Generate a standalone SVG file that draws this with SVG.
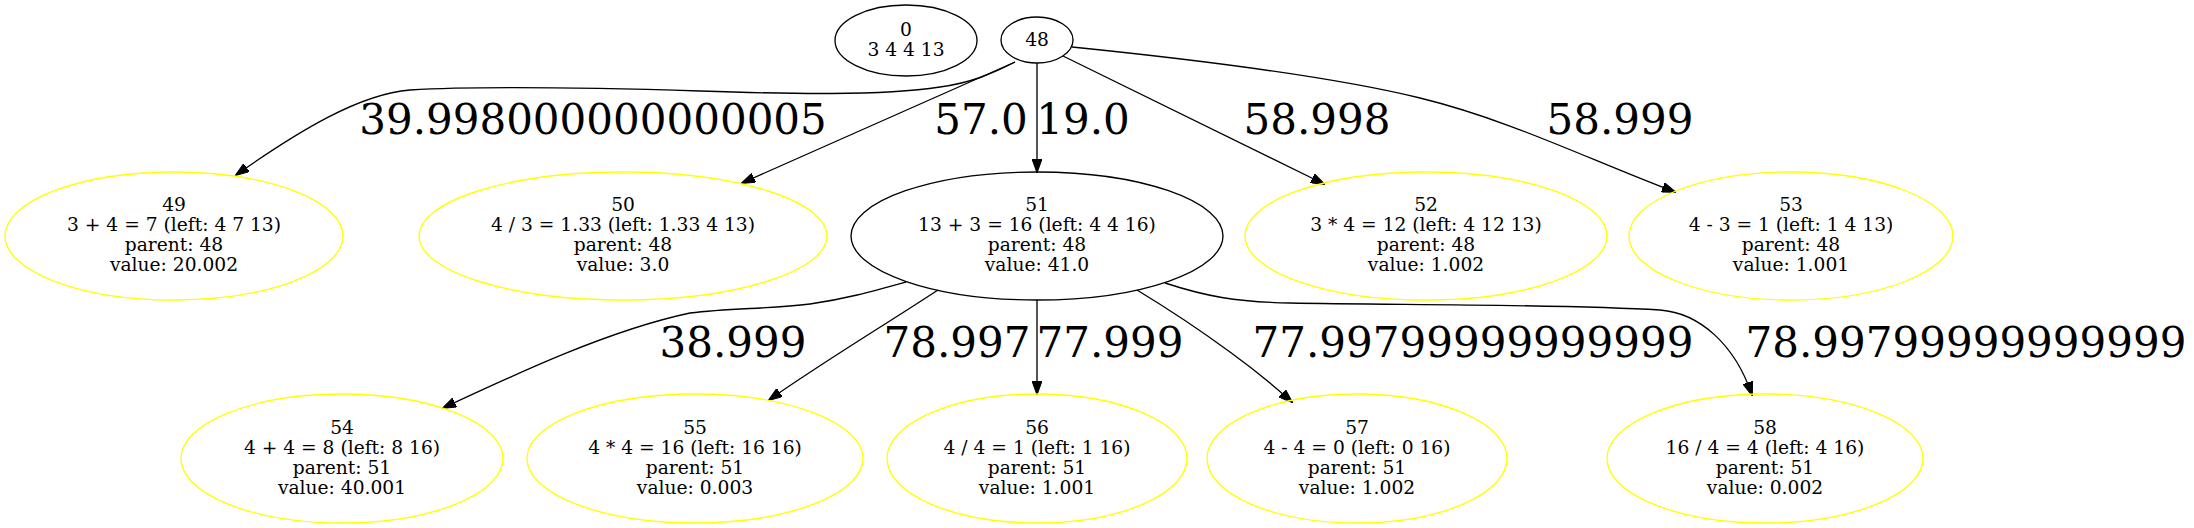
<svg xmlns="http://www.w3.org/2000/svg" width="2194" height="528" viewBox="0 0 2194 528">
<style>
.n ellipse{fill:none;stroke-width:1.33}
.y ellipse{stroke:#ffff00}
.k ellipse{stroke:#000000}
.n text{font-family:"DejaVu Serif","Liberation Serif",serif;font-size:18.67px;fill:#000;text-anchor:middle}
.e path{fill:none;stroke:#000;stroke-width:1.33}
.lb{font-family:"DejaVu Serif","Liberation Serif",serif;font-size:42px;fill:#000;text-anchor:middle}
</style>
<defs>
<marker id="ah" viewBox="0 0 14 10" refX="13" refY="5" markerWidth="14" markerHeight="10" orient="auto" markerUnits="userSpaceOnUse">
<path d="M0,0 L14,5 L0,10 z" fill="#000" stroke="#000" stroke-width="1"/>
</marker>
</defs>
<rect width="2194" height="528" fill="#ffffff"/>
<g id="edges" class="e">
<path marker-end="url(#ah)" d="M1015,62 C992,74 970,83 940,87 C880,96 790,94 700,91 C600,88 480,86 410,90 C360,94 300,130 236,175"/>
<path marker-end="url(#ah)" d="M1015,62 L742,183"/>
<path marker-end="url(#ah)" d="M1037,63 L1037,172"/>
<path marker-end="url(#ah)" d="M1063,56 L1324,184"/>
<path marker-end="url(#ah)" d="M1072,47 C1200,60 1330,76 1420,98 C1510,120 1590,160 1675,192"/>
<path marker-end="url(#ah)" d="M906,282 C870,292 845,299 810,304 C770,309 730,308 690,313 C610,330 520,372 443,408"/>
<path marker-end="url(#ah)" d="M938,290 C880,328 820,364 769,400"/>
<path marker-end="url(#ah)" d="M1037,300 L1037,394"/>
<path marker-end="url(#ah)" d="M1137,290 C1170,310 1200,330 1230,352 C1255,370 1274,386 1292,402"/>
<path marker-end="url(#ah)" d="M1165,283 C1205,296 1235,302 1290,303 C1400,305 1560,304 1660,310 C1700,313 1735,345 1752,395"/>
<text class="lb" x="593" y="134">39.998000000000005</text>
<text class="lb" x="981" y="134">57.0</text>
<text class="lb" x="1083" y="134">19.0</text>
<text class="lb" x="1317" y="134">58.998</text>
<text class="lb" x="1620" y="134">58.999</text>
<text class="lb" x="733" y="357">38.999</text>
<text class="lb" x="957" y="357">78.997</text>
<text class="lb" x="1110" y="357">77.999</text>
<text class="lb" x="1473" y="357">77.99799999999999</text>
<text class="lb" x="1966" y="357">78.99799999999999</text>
</g>
<g id="node0" class="n k"><ellipse cx="906" cy="40.5" rx="71" ry="35.5"/><text x="906" y="36">0</text><text x="906" y="56">3 4 4 13</text></g>
<g id="node48" class="n k"><ellipse cx="1037" cy="40" rx="36" ry="23"/><text x="1037" y="46">48</text></g>
<g id="node49" class="n y"><ellipse cx="174" cy="236" rx="169" ry="64"/><text x="174" y="211">49</text><text x="174" y="231">3 + 4 = 7 (left: 4 7 13)</text><text x="174" y="251">parent: 48</text><text x="174" y="271">value: 20.002</text></g>
<g id="node50" class="n y"><ellipse cx="623" cy="236" rx="204" ry="64"/><text x="623" y="211">50</text><text x="623" y="231">4 / 3 = 1.33 (left: 1.33 4 13)</text><text x="623" y="251">parent: 48</text><text x="623" y="271">value: 3.0</text></g>
<g id="node51" class="n k"><ellipse cx="1037" cy="236" rx="186" ry="64"/><text x="1037" y="211">51</text><text x="1037" y="231">13 + 3 = 16 (left: 4 4 16)</text><text x="1037" y="251">parent: 48</text><text x="1037" y="271">value: 41.0</text></g>
<g id="node52" class="n y"><ellipse cx="1426" cy="236" rx="181" ry="64"/><text x="1426" y="211">52</text><text x="1426" y="231">3 * 4 = 12 (left: 4 12 13)</text><text x="1426" y="251">parent: 48</text><text x="1426" y="271">value: 1.002</text></g>
<g id="node53" class="n y"><ellipse cx="1791" cy="236" rx="162" ry="64"/><text x="1791" y="211">53</text><text x="1791" y="231">4 - 3 = 1 (left: 1 4 13)</text><text x="1791" y="251">parent: 48</text><text x="1791" y="271">value: 1.001</text></g>
<g id="node54" class="n y"><ellipse cx="342" cy="458.5" rx="161" ry="64.5"/><text x="342" y="434">54</text><text x="342" y="454">4 + 4 = 8 (left: 8 16)</text><text x="342" y="474">parent: 51</text><text x="342" y="494">value: 40.001</text></g>
<g id="node55" class="n y"><ellipse cx="695" cy="458.5" rx="168" ry="64.5"/><text x="695" y="434">55</text><text x="695" y="454">4 * 4 = 16 (left: 16 16)</text><text x="695" y="474">parent: 51</text><text x="695" y="494">value: 0.003</text></g>
<g id="node56" class="n y"><ellipse cx="1037" cy="458.5" rx="150" ry="64.5"/><text x="1037" y="434">56</text><text x="1037" y="454">4 / 4 = 1 (left: 1 16)</text><text x="1037" y="474">parent: 51</text><text x="1037" y="494">value: 1.001</text></g>
<g id="node57" class="n y"><ellipse cx="1357" cy="458.5" rx="150" ry="64.5"/><text x="1357" y="434">57</text><text x="1357" y="454">4 - 4 = 0 (left: 0 16)</text><text x="1357" y="474">parent: 51</text><text x="1357" y="494">value: 1.002</text></g>
<g id="node58" class="n y"><ellipse cx="1765" cy="458.5" rx="158" ry="64.5"/><text x="1765" y="434">58</text><text x="1765" y="454">16 / 4 = 4 (left: 4 16)</text><text x="1765" y="474">parent: 51</text><text x="1765" y="494">value: 0.002</text></g>
</svg>
